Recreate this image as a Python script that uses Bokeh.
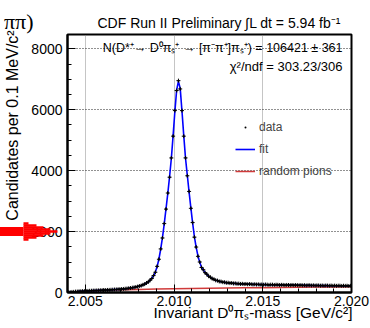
import numpy as np
from bokeh.plotting import figure
from bokeh.models import (Range1d, SingleIntervalTicker, FixedTicker, PrintfTickFormatter,
                          Label, Legend, LegendItem, ColumnDataSource, LinearAxis)
from bokeh.embed import file_html
from bokeh.resources import INLINE

# ---- data ----
mass_lo = 2.004          # GeV/c^2, lower edge of first bin
bin_width = 0.0001       # 0.1 MeV bins

data_counts = [
    5, 10, 18, 21, 28, 30, 37, 38, 44, 45,
    50, 52, 56, 57, 62, 62, 67, 68, 72, 73,
    78, 79, 84, 85, 90, 92, 97, 99, 105, 107,
    113, 116, 124, 129, 139, 146, 158, 167, 181, 193,
    212, 226, 252, 275, 313, 347, 404, 461, 556, 664,
    858, 1092, 1431, 1790, 2262, 2738, 3266, 3785, 4418, 5133,
    5972, 6631, 6955, 6683, 5971, 5132, 4419, 3832, 3318, 2764,
    2296, 1817, 1492, 1188, 1001, 821, 748, 652, 601, 534,
    501, 455, 436, 399, 390, 363, 359, 339, 337, 321,
    322, 308, 310, 297, 300, 288, 291, 281, 285, 275,
    281, 270, 276, 272, 263, 270, 262, 267, 258, 264,
    255, 262, 258, 250, 257, 256, 248, 255, 252, 244,
    251, 249, 241, 248, 246, 239, 247, 238, 244, 241,
    235, 242, 233, 239, 230, 237, 236, 228, 235, 226,
    233, 231, 224, 230, 222, 229, 227, 221, 228, 219,
    226, 218, 224, 223, 215, 222, 217, 221, 213, 220,
]

fit_counts = [
    4, 11, 17, 22, 27, 31, 36, 39, 43, 46,
    49, 53, 55, 58, 61, 63, 66, 69, 71, 74,
    77, 80, 83, 86, 89, 93, 96, 100, 104, 108,
    112, 117, 123, 130, 138, 147, 157, 168, 180, 194,
    210, 228, 250, 277, 310, 350, 400, 465, 550, 670,
    850, 1100, 1420, 1800, 2250, 2750, 3250, 3800, 4400, 5150,
    5950, 6650, 6930, 6700, 5950, 5150, 4400, 3850, 3300, 2780,
    2280, 1830, 1480, 1200, 990, 830, 740, 660, 595, 540,
    495, 460, 430, 405, 385, 368, 355, 343, 333, 325,
    318, 312, 306, 301, 296, 292, 288, 285, 282, 279,
    276, 274, 272, 270, 268, 266, 265, 263, 262, 260,
    259, 258, 256, 255, 254, 253, 252, 251, 250, 249,
    248, 247, 246, 245, 244, 243, 242, 241, 240, 239,
    238, 237, 236, 235, 234, 234, 233, 232, 231, 230,
    229, 229, 228, 227, 226, 226, 225, 224, 224, 223,
    222, 222, 221, 220, 220, 219, 219, 218, 218, 217,
]

bg_mass = [2.0044, 2.005, 2.006, 2.007, 2.008, 2.009, 2.010, 2.011, 2.012,
           2.013, 2.014, 2.015, 2.016, 2.017, 2.018, 2.019, 2.020]
bg_counts = [0, 45, 70, 88, 102, 113, 123, 132, 140,
             147, 154, 160, 166, 172, 177, 182, 187]

x_ticks_interval = 0.005
y_ticks_interval = 2000
arrow_level = 2000        # y value the red arrow points at

x_title = "Invariant D\u2070\u03c0\u209b-mass [GeV/c\u00b2]"
y_title = "Candidates per 0.1 MeV/c\u00b2"
plot_title = "CDF Run II Preliminary \u222bL dt = 5.94 fb\u207b\u00b9"
corner_fragment = "\u03c0\u03c0)"
fit_text = ("N(D*\u207a\u2192 D\u2070\u03c0\u209b\u207a \u2192 [\u03c0\u207b\u03c0\u207a]\u03c0\u209b\u207a)"
            " = 106421 \u00b1 361")
chi2_text = "\u03c7\u00b2/ndf = 303.23/306"

centers = mass_lo + bin_width * (np.arange(len(data_counts)) + 0.5)
src = ColumnDataSource(dict(x=centers, y=data_counts, fit=fit_counts))

FONT = "Liberation Sans"
X0, X1 = 2.004, 2.020
Y_MAX = 8470
FRAME_W, FRAME_H = 284, 258   # px

p = figure(width=370, height=328, output_backend="svg", toolbar_location=None,
           x_range=Range1d(X0, X1), y_range=Range1d(0, Y_MAX),
           min_border_left=67, min_border_right=19, min_border_top=34,
           min_border_bottom=36)
p.background_fill_color = "white"
p.border_fill_color = "white"
p.outline_line_color = "black"
p.outline_line_width = 2

# title
p.title.text = plot_title
p.title.align = "left"
p.title.offset = 30
p.title.standoff = 7
p.title.text_font = FONT
p.title.text_font_size = "14px"
p.title.text_font_style = "normal"
p.title.text_color = "black"

# main axes
xa = p.xaxis[0]
ya = p.yaxis[0]
xa.ticker = SingleIntervalTicker(interval=x_ticks_interval, num_minor_ticks=5)
ya.ticker = SingleIntervalTicker(interval=y_ticks_interval, num_minor_ticks=4)
xa.formatter = PrintfTickFormatter(format="%.3f")
for ax in (xa, ya):
    ax.axis_line_color = "black"
    ax.axis_line_width = 2
    ax.major_tick_in = 8
    ax.major_tick_out = 0
    ax.minor_tick_in = 4
    ax.minor_tick_out = 0
    ax.major_tick_line_color = "black"
    ax.minor_tick_line_color = "black"
    ax.major_label_text_font = FONT
    ax.major_label_text_font_size = "14px"
    ax.major_label_text_color = "black"
    ax.axis_label = None
xa.major_label_standoff = 3
ya.major_label_standoff = 5

p.xgrid.grid_line_color = "#8a8a8a"
p.xgrid.grid_line_dash = "1 1"
p.ygrid.grid_line_color = "#222222"
p.ygrid.grid_line_dash = "1 2"

upp_y = Y_MAX / FRAME_H            # data units per pixel (y)
upp_x = (X1 - X0) / FRAME_W        # data units per pixel (x)

# ---- axis titles as single-label helper axes (placed like ROOT, toward the axis end) ----
def text_axis(tick, text, standoff, size, orientation="horizontal"):
    return LinearAxis(ticker=FixedTicker(ticks=[tick], minor_ticks=[]),
                      major_label_overrides={tick: text},
                      axis_line_color=None, major_tick_line_color=None,
                      minor_tick_line_color=None, major_tick_out=0, major_tick_in=0,
                      minor_tick_out=0, minor_tick_in=0,
                      major_label_standoff=standoff, major_label_orientation=orientation,
                      major_label_text_font=FONT, major_label_text_font_size=size,
                      major_label_text_color="black")

ylab_tick = int(round(167 * upp_y))                  # label centred 125 px from top
ylab_axis = text_axis(ylab_tick, y_title, 7, "16px", orientation="vertical")
xlab_tick = round(X0 + 185.5 * upp_x, 6)             # label centred at x = 252 px
xlab_axis = text_axis(xlab_tick, x_title, -5, "15.5px")

# ---- red arrow drawn with tick marks of helper axes ----
AX = 5   # expected x position (px) of the outer helper axes
def arrow_axis(offset_px, x_left, x_right, width):
    ys = sorted({arrow_level + offset_px * upp_y, arrow_level - offset_px * upp_y})
    return LinearAxis(ticker=FixedTicker(ticks=[], minor_ticks=ys),
                      axis_line_color=None, major_tick_line_color=None,
                      major_tick_in=0, major_tick_out=0, major_label_standoff=0,
                      major_label_text_font_size="0px",
                      minor_tick_line_color="#ff0000", minor_tick_line_width=width,
                      minor_tick_out=AX - x_left, minor_tick_in=x_right - AX,
                      level="overlay")

head_rows = [(0, 61), (2, 54), (4, 47), (6, 40), (8, 32)]
head_axes = [arrow_axis(o, 27, xr, 2.3) for o, xr in head_rows]

# outermost helper: arrow shaft (minor tick) + cut-off corner text (major label)
frag_tick = int(Y_MAX - 2 * upp_y)
outer_axis = LinearAxis(ticker=FixedTicker(ticks=[frag_tick], minor_ticks=[arrow_level]),
                        major_label_overrides={frag_tick: corner_fragment + "\n\u00a0"},
                        axis_line_color=None, major_tick_line_color=None,
                        major_tick_in=0, major_tick_out=0,
                        minor_tick_line_color="#ff0000", minor_tick_line_width=9,
                        minor_tick_out=AX, minor_tick_in=27 - AX,
                        major_label_standoff=-37,
                        major_label_text_font="Liberation Serif",
                        major_label_text_font_size="22px",
                        major_label_text_color="black", level="overlay")

p.left = [ya, ylab_axis] + head_axes + [outer_axis]
p.below = [xa, xlab_axis]

# glyphs
r_bg = p.line(bg_mass, bg_counts, line_color="#d03a3a", line_width=1.5)
r_fit = p.line("x", "fit", source=src, line_color="#0000ff", line_width=1.6)
r_cross = p.scatter("x", "y", source=src, marker="cross", size=4,
                    line_color="black", line_width=1)
r_dot = p.scatter("x", "y", source=src, marker="dot", size=8,
                  line_color="black", fill_color="black")

legend = Legend(items=[
    LegendItem(label="data", renderers=[r_dot]),
    LegendItem(label="fit", renderers=[r_fit]),
    LegendItem(label="random pions", renderers=[r_bg]),
], location=(168, 111), background_fill_alpha=0, border_line_alpha=0,
    label_text_font=FONT, label_text_font_size="12px",
    glyph_width=20, glyph_height=20, label_height=20, spacing=2,
    padding=0, margin=0, label_standoff=4)
p.add_layout(legend)

def lab(text, x, y, size):
    p.add_layout(Label(x=x, y=y, x_units="screen", y_units="screen", text=text,
                       text_font=FONT, text_font_size=size, text_align="right",
                       text_baseline="middle", text_color="black"))

lab(fit_text, 275, 245, "12.5px")
lab(chi2_text, 275, 226, "13px")

open("out.html", "w").write(file_html(p, INLINE))
